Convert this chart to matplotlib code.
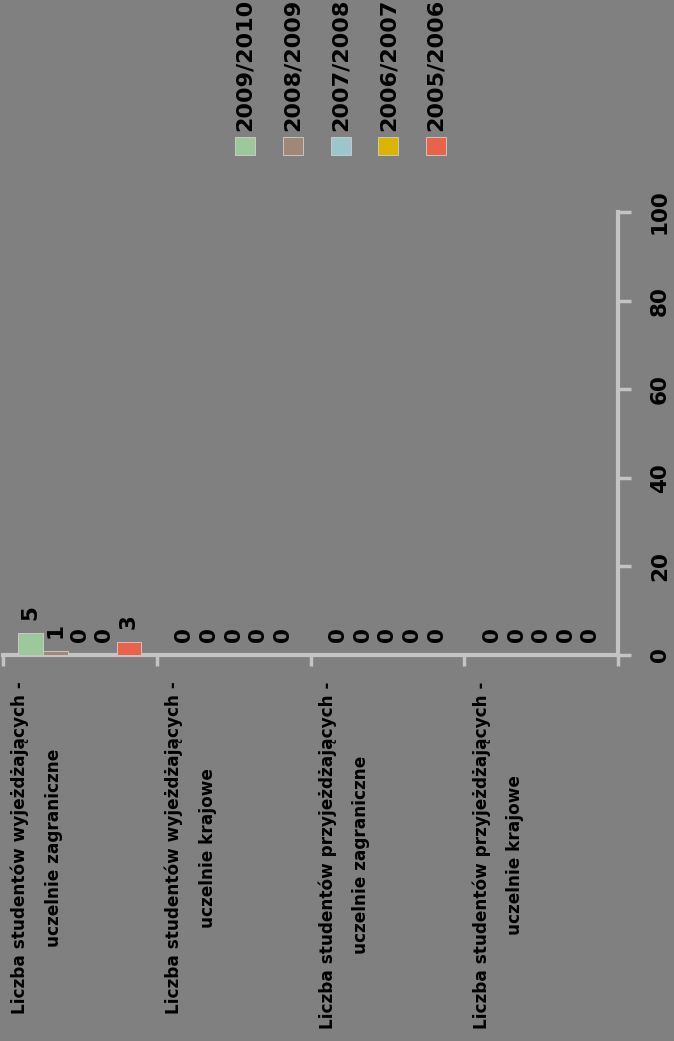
import matplotlib
matplotlib.use("Agg")
import matplotlib.pyplot as plt
from matplotlib.patches import Rectangle
import numpy as np

categories = [
    "Liczba studentów wyjeżdżających -\nuczelnie zagraniczne",
    "Liczba studentów wyjeżdżających -\nuczelnie krajowe",
    "Liczba studentów przyjeżdżających -\nuczelnie zagraniczne",
    "Liczba studentów przyjeżdżających -\nuczelnie krajowe",
]
series_names = ["2009/2010", "2008/2009", "2007/2008", "2006/2007", "2005/2006"]
v_2009_2010 = [5, 0, 0, 0]
v_2008_2009 = [1, 0, 0, 0]
v_2007_2008 = [0, 0, 0, 0]
v_2006_2007 = [0, 0, 0, 0]
v_2005_2006 = [3, 0, 0, 0]
series_values = [v_2009_2010, v_2008_2009, v_2007_2008, v_2006_2007, v_2005_2006]
series_colors = ["#9cc89c", "#a08878", "#9cc6cc", "#d9b400", "#e8634a"]
value_ticks = [0, 20, 40, 60, 80, 100]

BG = "#808080"
AXC = "#c4c4c4"
W, H = 674, 1041

fig = plt.figure(figsize=(W / 100, H / 100), dpi=100, facecolor=BG)
ax = fig.add_axes([3 / W, 1 - 655 / H, (618 - 3) / W, (655 - 212) / H])
ax.set_facecolor(BG)

n = len(categories)
m = len(series_names)
bw = 0.16
xc = np.arange(n) + 0.5
for j, (name, vals, col) in enumerate(zip(series_names, series_values, series_colors)):
    pos = xc + (j - (m - 1) / 2) * bw
    ax.bar(pos, vals, bw, color=col, edgecolor="#d0d0d0", linewidth=0.6, zorder=3)
    for p, v in zip(pos, vals):
        ax.annotate(str(v), (p, v), xytext=(0, 14.5), textcoords="offset points",
                    rotation=90, ha="center", va="center", fontsize=15.5,
                    fontweight="bold", color="black", zorder=4)

ax.set_xlim(0, n)
ax.set_ylim(0, 100)

for s in ["left", "top"]:
    ax.spines[s].set_visible(False)
for s in ["right", "bottom"]:
    ax.spines[s].set_color(AXC)
    ax.spines[s].set_linewidth(3)

# value axis (right)
ax.yaxis.tick_right()
ax.set_yticks(value_ticks)
ax.set_yticklabels([str(t) for t in value_ticks])
ax.tick_params(axis="y", which="major", right=True, left=False, labelright=True,
               labelleft=False, direction="out", length=9, width=2.5, color=AXC,
               labelrotation=90, pad=14, labelsize=15.5)
for lab in ax.get_yticklabels():
    lab.set_va("center")
    lab.set_fontweight("bold")

# category axis
ax.set_xticks(np.arange(n + 1))
ax.set_xticklabels([])
ax.tick_params(axis="x", which="major", direction="out", length=8, width=2.5, color=AXC)
ax.set_xticks(np.arange(n) + 0.22, minor=True)
ax.set_xticklabels(categories, minor=True, rotation=90, ha="center", va="top",
                   multialignment="center", fontsize=12.2, fontweight="bold",
                   linespacing=2.1)
ax.tick_params(axis="x", which="minor", length=0, pad=19)

# legend (rotated, drawn manually)
for j, (name, col) in enumerate(zip(series_names, series_colors)):
    cx = 245 + j * 47.8
    fig.patches.append(Rectangle(((cx - 10) / W, 1 - 155 / H), 20 / W, 18 / H,
                                 transform=fig.transFigure, facecolor=col,
                                 edgecolor="#d0d0d0", linewidth=0.6))
    fig.text(cx / W, 1 - 131 / H, name, rotation=90, ha="center", va="bottom",
             fontsize=16, fontweight="bold", color="black")

fig.savefig("out.png", dpi=100, facecolor=BG)
